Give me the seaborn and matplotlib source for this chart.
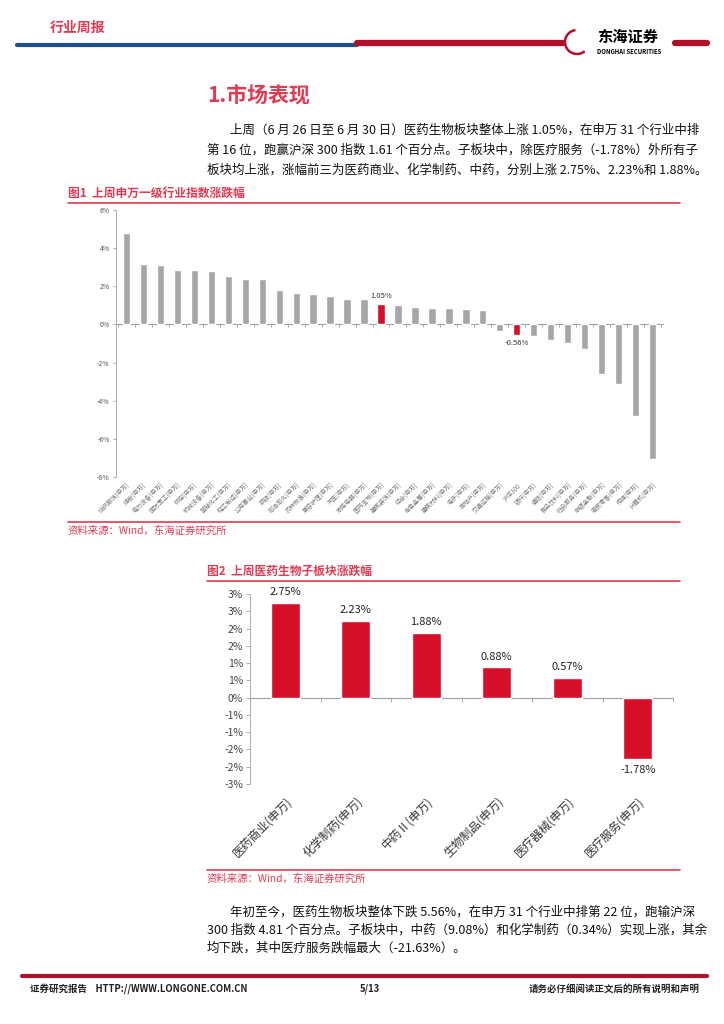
import numpy as np
import matplotlib
matplotlib.use("Agg")
import matplotlib.pyplot as plt
import matplotlib.patches as mpatches
import seaborn as sns

sns.set_style("white")
plt.rcParams['font.family'] = ['Noto Sans CJK SC', 'DejaVu Sans']

# ---- data: figure 1, weekly change of SW level-1 industries (%)
industries = ["纺织服饰(申万)", "煤炭(申万)", "电力设备(申万)", "国防军工(申万)", "环保(申万)",
              "机械设备(申万)", "基础化工(申万)", "轻工制造(申万)", "公用事业(申万)", "钢铁(申万)",
              "石油石化(申万)", "农林牧渔(申万)", "美容护理(申万)", "汽车(申万)", "家用电器(申万)",
              "医药生物(申万)", "建筑装饰(申万)", "综合(申万)", "有色金属(申万)", "建筑材料(申万)",
              "电子(申万)", "房地产(申万)", "交通运输(申万)", "沪深300", "银行(申万)",
              "通信(申万)", "食品饮料(申万)", "社会服务(申万)", "非银金融(申万)", "商贸零售(申万)",
              "传媒(申万)", "计算机(申万)"]
industry_chg = [4.80, 3.15, 3.12, 2.87, 2.84, 2.78, 2.56, 2.38, 2.38, 1.79,
                1.65, 1.58, 1.50, 1.32, 1.32, 1.05, 1.03, 0.91, 0.85, 0.85,
                0.80, 0.75, -0.35, -0.56, -0.61, -0.82, -0.99, -1.27, -2.58, -3.12,
                -4.79, -7.05]
highlight = ["医药生物(申万)", "沪深300"]
fig1_yticks = [6, 4, 2, 0, -2, -4, -6, -8]

# ---- data: figure 2, pharma sub-sectors (%)
subsectors = ["医药商业(申万)", "化学制药(申万)", "中药Ⅱ(申万)", "生物制品(申万)", "医疗器械(申万)", "医疗服务(申万)"]
subsector_chg = [2.75, 2.23, 1.88, 0.88, 0.57, -1.78]
fig2_yticks = [3.0, 2.5, 2.0, 1.5, 1.0, 0.5, 0.0, -0.5, -1.0, -1.5, -2.0, -2.5]
fig2_yticklabels = ["3%", "3%", "2%", "2%", "1%", "1%", "0%", "-1%", "-1%", "-2%", "-2%", "-3%"]

RED = "#D7102A"
PINK = "#E23A52"
GRAY = "#A6A6A6"
AXC = "#A0A0A0"
W, H = 724, 1024


def fx(px):
    return px / W


def fy(py):
    return 1 - py / H


def zero_line(ax, n, loc, length):
    # horizontal axis line through 0 with category separators
    sec = ax.secondary_xaxis(loc)
    sec.xaxis.set_ticks_position("bottom")
    sec.set_xticks(np.arange(n + 1) - 0.5)
    sec.set_xticklabels([])
    sec.tick_params(axis="x", length=length, width=0.6, color=AXC, direction="out")
    for sp in sec.spines.values():
        sp.set_color(AXC)
        sp.set_linewidth(0.8)
    return sec


fig = plt.figure(figsize=(7.24, 10.24), dpi=100)

# ---- header
fig.text(fx(50), fy(28), "行业周报", color=PINK, fontsize=10, fontweight="bold", va="center")
fig.add_artist(plt.Line2D([fx(17), fx(357)], [fy(45), fy(45)], color="#1F4E8C", lw=3))
fig.add_artist(plt.Line2D([fx(357), fx(563)], [fy(43), fy(43)], color="#B0102A", lw=4.5))
fig.add_artist(plt.Line2D([fx(675), fx(707)], [fy(43), fy(43)], color="#B0102A", lw=4.5))
fig.add_artist(mpatches.Arc((fx(577), fy(42)), fx(24), 24 / H, theta1=100, theta2=320,
                            color="#B0102A", lw=1.8, transform=fig.transFigure))
fig.text(fx(597), fy(37), "东海证券", fontsize=11, fontweight="bold", color="black", va="center")
fig.text(fx(597), fy(52), "DONGHAI SECURITIES", fontsize=4.3, fontweight="bold", color="black", va="center")

# ---- section heading + paragraph
fig.text(fx(207), fy(95), "1.市场表现", color=PINK, fontsize=15, fontweight="bold", va="center")
para1 = ["上周（6 月 26 日至 6 月 30 日）医药生物板块整体上涨 1.05%，在申万 31 个行业中排",
         "第 16 位，跑赢沪深 300 指数 1.61 个百分点。子板块中，除医疗服务（-1.78%）外所有子",
         "板块均上涨，涨幅前三为医药商业、化学制药、中药，分别上涨 2.75%、2.23%和 1.88%。"]
for i, line in enumerate(para1):
    x0 = 230 if i == 0 else 207
    fig.text(fx(x0), fy(130 + 20 * i), line, fontsize=9.0, color="#111111", va="center")

# ---- figure 1
fig.text(fx(68), fy(193), "图1  上周申万一级行业指数涨跌幅", color=PINK, fontsize=8.5,
         fontweight="bold", va="center")
fig.add_artist(plt.Line2D([fx(68), fx(680)], [fy(203), fy(203)], color=PINK, lw=1.2))

ax1 = fig.add_axes([fx(116), fy(477), fx(663 - 116), (477 - 210) / H])
colors1 = [RED if c in highlight else GRAY for c in industries]
sns.barplot(x=industries, y=industry_chg, hue=industries, palette=colors1, legend=False,
            width=0.42, ax=ax1, saturation=1)
ax1.set_ylim(-8, 6)
ax1.set_xlim(-0.6, len(industries) - 0.4)
ax1.set_yticks(fig1_yticks)
ax1.set_yticklabels([f"{t}%" for t in fig1_yticks], fontsize=5, color="#555555")
ax1.set_xticks(range(len(industries)))
ax1.set_xticklabels(industries, rotation=45, ha="right", rotation_mode="anchor",
                    fontsize=4.4, color="#777777")
ax1.tick_params(axis="x", length=0, pad=3)
ax1.tick_params(axis="y", length=2.5, width=0.6, color=AXC, direction="out", left=True, pad=2)
for s in ["top", "right", "bottom"]:
    ax1.spines[s].set_visible(False)
ax1.spines["left"].set_color(AXC)
ax1.spines["left"].set_linewidth(0.6)
zero_line(ax1, len(industries), 8 / 14, 2.5)
for i, (c, v) in enumerate(zip(industries, industry_chg)):
    if c in highlight:
        ax1.annotate(f"{v:.2f}%", (i, v), xytext=(0, 3 if v > 0 else -3), textcoords="offset points",
                     ha="center", va="bottom" if v > 0 else "top", fontsize=5.5, color="#333333")

fig.add_artist(plt.Line2D([fx(68), fx(680)], [fy(522), fy(522)], color=PINK, lw=1.2))
fig.text(fx(68), fy(531), "资料来源：Wind，东海证券研究所", color=PINK, fontsize=7.5, va="center")

# ---- figure 2
fig.text(fx(207), fy(571), "图2  上周医药生物子板块涨跌幅", color=PINK, fontsize=8.5,
         fontweight="bold", va="center")
fig.add_artist(plt.Line2D([fx(207), fx(680)], [fy(581), fy(581)], color=PINK, lw=1.2))

ax2 = fig.add_axes([fx(250), fy(784), fx(673 - 250), (784 - 594) / H])
sns.barplot(x=subsectors, y=subsector_chg, color=RED, width=0.41, ax=ax2, saturation=1)
ax2.set_ylim(-2.5, 3.0)
ax2.set_xlim(-0.5, len(subsectors) - 0.5)
ax2.set_yticks(fig2_yticks)
ax2.set_yticklabels(fig2_yticklabels, fontsize=7.5, color="#444444")
ax2.set_xticks(range(len(subsectors)))
ax2.set_xticklabels(subsectors, rotation=45, ha="right", rotation_mode="anchor",
                    fontsize=8.5, color="#333333")
ax2.tick_params(axis="x", length=0, pad=8)
ax2.tick_params(axis="y", length=3, width=0.6, color=AXC, direction="out", left=True, pad=2)
for s in ["top", "right", "bottom"]:
    ax2.spines[s].set_visible(False)
ax2.spines["left"].set_color(AXC)
ax2.spines["left"].set_linewidth(0.6)
zero_line(ax2, len(subsectors), 2.5 / 5.5, 3)
for i, v in enumerate(subsector_chg):
    ax2.annotate(f"{v:.2f}%", (i, v), xytext=(0, 4 if v > 0 else -4), textcoords="offset points",
                 ha="center", va="bottom" if v > 0 else "top", fontsize=8, color="#222222")

fig.add_artist(plt.Line2D([fx(207), fx(680)], [fy(870), fy(870)], color=PINK, lw=1.2))
fig.text(fx(207), fy(879), "资料来源：Wind，东海证券研究所", color=PINK, fontsize=7.5, va="center")

# ---- closing paragraph
para2 = ["年初至今，医药生物板块整体下跌 5.56%，在申万 31 个行业中排第 22 位，跑输沪深",
         "300 指数 4.81 个百分点。子板块中，中药（9.08%）和化学制药（0.34%）实现上涨，其余",
         "均下跌，其中医疗服务跌幅最大（-21.63%）。"]
for i, line in enumerate(para2):
    x0 = 230 if i == 0 else 207
    fig.text(fx(x0), fy(912 + 18 * i), line, fontsize=9.0, color="#111111", va="center")

# ---- footer
fig.add_artist(plt.Line2D([fx(22), fx(707)], [fy(976), fy(976)], color="#B0102A", lw=3))
fig.text(fx(30), fy(989), "证券研究报告    HTTP://WWW.LONGONE.COM.CN", fontsize=6.8,
         fontweight="bold", color="#222222", va="center")
fig.text(fx(370), fy(989), "5/13", fontsize=6.8, fontweight="bold", color="#222222",
         va="center", ha="center")
fig.text(fx(700), fy(989), "请务必仔细阅读正文后的所有说明和声明", fontsize=6.8,
         fontweight="bold", color="#222222", va="center", ha="right")

fig.savefig("out.png", dpi=100)
